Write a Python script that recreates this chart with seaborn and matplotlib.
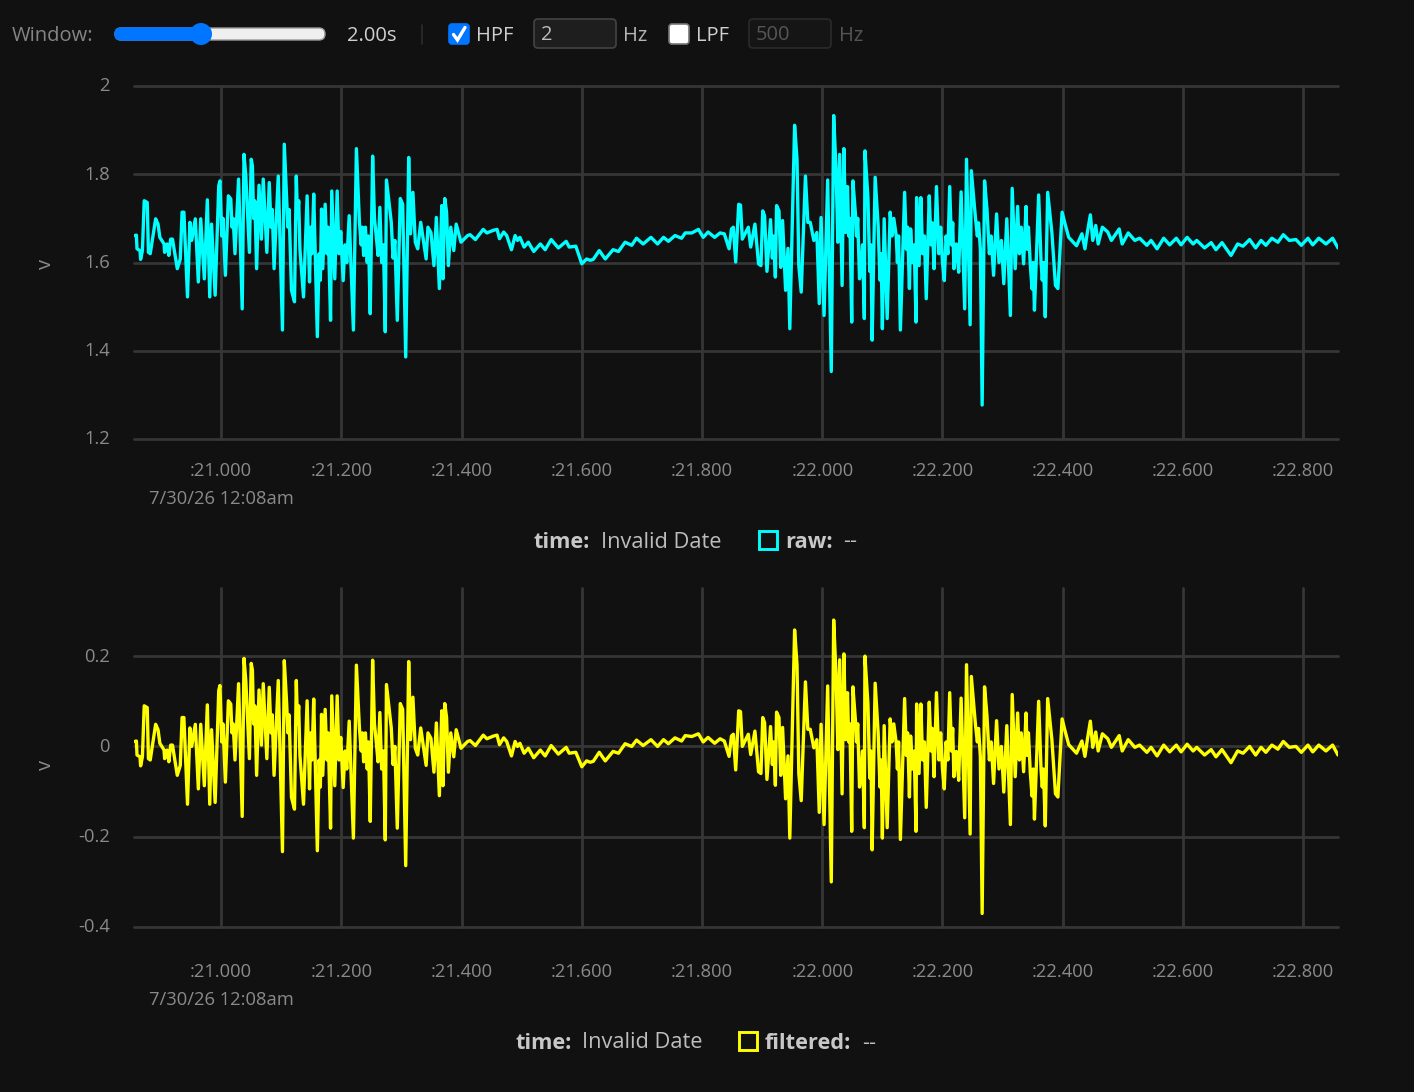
import numpy as np
import pandas as pd
import seaborn as sns
import matplotlib
matplotlib.use("Agg")
import matplotlib.pyplot as plt
from matplotlib.patches import FancyBboxPatch, Rectangle, Circle
from matplotlib.transforms import blended_transform_factory, ScaledTranslation

# Time offsets in ms after :21.000, raw volts, filtered volts
time_a = [-144,-141,-140,-135,-134,-131,-128,-123,-121,-118,-109,-105,-102,-95,-94,-90,-87,-84,-81,-73,-68,-65,-62,-56,-52,-49,-43,-38,-34,-28,-23,-19,-16,-10,-4,-2,
          7,12,16,23,29,35,38,41,47,50,52,59,63,67,70,76,80,88,95,102,105,109,117,122,125,131,137,143,147,154,160,167,169,173,182,184,189,193,203,213,220,225,230,237,240,248,252,261,264,273,275,283,293,298,302,307,312,315,319,323,327,332,341,344,349,354,358,363,367,369,372,375,378,382,387,391,399,410]
raw_a = [1.661,1.662,1.631,1.627,1.607,1.627,1.740,1.736,1.623,1.620,1.699,1.687,1.657,1.642,1.623,1.642,1.616,1.653,1.653,1.586,1.608,1.714,1.714,1.522,1.691,1.650,1.699,1.556,1.699,1.563,1.742,1.522,1.687,1.526,1.774,1.785,
         1.571,1.751,1.744,1.620,1.789,1.495,1.845,1.796,1.623,1.834,1.819,1.586,1.775,1.653,1.789,1.623,1.781,1.586,1.796,1.447,1.868,1.744,1.537,1.511,1.796,1.631,1.522,1.751,1.556,1.755,1.432,1.721,1.586,1.732,1.469,1.762,1.563,1.762,1.559,1.706,1.447,1.858,1.691,1.616,1.680,1.484,1.841,1.616,1.725,1.443,1.787,1.691,1.469,1.745,1.732,1.386,1.838,1.665,1.759,1.646,1.631,1.691,1.608,1.680,1.668,1.593,1.702,1.541,1.729,1.563,1.745,1.714,1.593,1.680,1.627,1.687,1.646,1.661]
filt_a = [.011,.012,-.019,-.023,-.043,-.023,.090,.086,-.027,-.030,.049,.037,.007,-.008,-.027,-.008,-.034,.003,.003,-.064,-.042,.064,.064,-.128,.041,.000,.049,-.094,.049,-.087,.092,-.128,.037,-.124,.124,.135,
          -.079,.101,.094,-.030,.139,-.155,.195,.146,-.027,.184,.169,-.064,.125,.003,.139,-.027,.131,-.064,.146,-.233,.190,.094,-.113,-.139,.146,-.019,-.128,.101,-.094,.105,-.231,.071,-.064,.082,-.181,.112,-.087,.112,-.091,.056,-.203,.180,.041,-.034,.030,-.166,.191,-.034,.075,-.207,.137,.041,-.181,.095,.082,-.264,.188,.015,.109,-.004,-.019,.041,-.042,.030,.018,-.057,.052,-.109,.079,-.087,.095,.064,-.057,.030,-.023,.037,-.004,.011]

time_b = [414,423,436,442,453,459,463,470,475,483,489,493,497,504,511,520,531,539,549,561,574,579,590,600,608,614,619,629,639,652,661,672,683,691,702,715,726,736,744,755,766,772,783,794,802,810,821,830]
raw_b = [1.663,1.652,1.675,1.667,1.673,1.675,1.654,1.669,1.661,1.629,1.661,1.650,1.657,1.635,1.646,1.625,1.642,1.629,1.652,1.633,1.648,1.635,1.637,1.597,1.608,1.605,1.607,1.627,1.608,1.629,1.625,1.646,1.639,1.655,1.642,1.657,1.642,1.657,1.648,1.661,1.655,1.667,1.667,1.675,1.657,1.669,1.657,1.667]
filt_b = [.013,.002,.025,.017,.023,.025,.004,.019,.011,-.021,.011,.000,.007,-.015,-.004,-.025,-.008,-.021,.002,-.017,-.002,-.015,-.013,-.045,-.032,-.035,-.033,-.013,-.032,-.011,-.015,.006,.000,.014,.002,.015,.000,.015,.006,.019,.012,.024,.022,.028,.010,.020,.007,.017]

time_c = [837,845,849,852,856,861,864,867,877,881,888,894,898,901,904,908,914,922,924,928,931,934,939,943,946,954,958,961,965,972,976,980,986,991,995,998,
          1003,1009,1015,1019,1023,1026,1029,1033,1036,1039,1042,1049,1051,1055,1062,1070,1071,1076,1083,1088,1093,1100,1103,1108,1113,1123,1130,1137,1145,1147,1156,1157,1161,1164,1173,1178,1186,1190,1203,1212,1219,1223,1227,1231,1237,1240,1246,1248,1255,1263,1266,1270,1274,1285,1290,1302,1307,1313,1316,1321,1325,1335,1339,1346,1353,1360,1364,1371,1375,1382,1388,1392,1399,1404,1410,1423,1432,1437,1441]
raw_c = [1.665,1.631,1.676,1.680,1.601,1.732,1.730,1.653,1.680,1.635,1.687,1.597,1.593,1.717,1.706,1.580,1.697,1.567,1.729,1.717,1.589,1.695,1.537,1.632,1.450,1.911,1.834,1.593,1.533,1.796,1.691,1.691,1.650,1.668,1.507,1.702,
         1.480,1.787,1.353,1.933,1.808,1.646,1.845,1.548,1.858,1.668,1.772,1.465,1.785,1.714,1.563,1.473,1.853,1.747,1.424,1.793,1.683,1.450,1.699,1.473,1.714,1.661,1.447,1.759,1.541,1.676,1.465,1.747,1.593,1.747,1.518,1.751,1.586,1.772,1.559,1.772,1.586,1.642,1.578,1.760,1.495,1.834,1.459,1.808,1.699,1.631,1.277,1.785,1.721,1.571,1.710,1.552,1.699,1.480,1.768,1.586,1.727,1.597,1.727,1.597,1.492,1.753,1.601,1.477,1.759,1.668,1.548,1.541,1.714,1.687,1.657,1.638,1.665,1.631,1.668]
filt_c = [.012,-.022,.023,.027,-.052,.079,.077,.000,.027,-.018,.034,-.056,-.060,.064,.053,-.073,.044,-.086,.076,.064,-.064,.042,-.116,-.021,-.203,.258,.181,-.060,-.120,.143,.038,.038,-.003,.015,-.146,.049,
          -.173,.134,-.300,.280,.155,-.007,.192,-.105,.205,.015,.119,-.188,.132,.061,-.090,-.180,.200,.094,-.229,.140,.030,-.203,.046,-.180,.061,.008,-.206,.106,-.112,.023,-.188,.094,-.060,.094,-.135,.098,-.067,.119,-.094,.119,-.067,-.011,-.075,.107,-.158,.181,-.194,.155,.046,-.022,-.370,.132,.068,-.082,.057,-.101,.046,-.173,.115,-.067,.074,-.056,.074,-.056,-.161,.100,-.052,-.176,.106,.015,-.105,-.112,.061,.034,.004,-.015,.012,-.022,.015]

time_d = [1446,1450,1455,1459,1466,1475,1481,1494,1499,1509,1520,1528,1540,1547,1557,1568,1578,1589,1597,1607,1617,1623,1636,1647,1655,1665,1680,1691,1700,1711,1721,1730,1738,1748,1758,1767,1777,1788,1797,1808,1816,1826,1838,1849,1858]
raw_d = [1.708,1.650,1.684,1.642,1.680,1.669,1.650,1.676,1.642,1.667,1.650,1.655,1.639,1.650,1.631,1.655,1.640,1.655,1.640,1.657,1.642,1.650,1.633,1.645,1.629,1.645,1.616,1.642,1.637,1.652,1.633,1.650,1.639,1.655,1.646,1.663,1.650,1.652,1.639,1.655,1.640,1.655,1.642,1.655,1.633]
filt_d = [.056,-.002,.032,-.010,.028,.017,-.002,.024,-.010,.015,-.002,.003,-.013,-.002,-.021,.003,-.012,.003,-.012,.005,-.010,-.002,-.019,-.007,-.023,-.007,-.036,-.010,-.015,.000,-.019,-.002,-.013,.003,-.006,.011,-.002,.000,-.013,.003,-.012,.003,-.010,.003,-.019]

# Smaller inner zigzags inside the two bursts
time_e = [1,3,18,20,54,56,83,85,111,113,127,129,149,151,163,165,176,178,196,199,206,209,233,235,243,245,255,258,267,270,286,289,
          917,919,1044,1046,1057,1059,1065,1067,1079,1081,1096,1098,1116,1119,1125,1127,1140,1142,1150,1153,1167,1170,1181,1183,1194,1197,1200,1206,1209,1215,1217,1258,1260,1278,1281,1294,1298,1328,1331,1341,1343,1349,1351,1366,1368]
raw_e = [1.66,1.70,1.68,1.70,1.70,1.74,1.68,1.72,1.68,1.72,1.70,1.74,1.68,1.62,1.62,1.56,1.62,1.68,1.62,1.67,1.64,1.60,1.64,1.68,1.60,1.66,1.70,1.66,1.60,1.64,1.61,1.65,
         1.61,1.66,1.66,1.70,1.66,1.70,1.60,1.64,1.58,1.64,1.56,1.62,1.66,1.70,1.60,1.66,1.63,1.68,1.60,1.64,1.62,1.66,1.64,1.69,1.62,1.68,1.60,1.66,1.62,1.64,1.69,1.66,1.69,1.62,1.66,1.60,1.65,1.62,1.68,1.63,1.68,1.54,1.60,1.56,1.60]
filt_e = [.01,.05,.03,.05,.05,.09,.03,.07,.03,.07,.05,.09,.03,-.03,-.03,-.09,-.03,.03,-.03,.02,-.01,-.05,-.01,.03,-.05,.01,.05,.01,-.05,-.01,-.04,.00,
          -.04,.01,.01,.05,.01,.05,-.05,-.01,-.07,-.01,-.09,-.03,.01,.05,-.05,.01,-.02,.03,-.05,-.01,-.03,.01,-.01,.04,-.03,.03,-.05,.01,-.03,-.01,.04,.01,.04,-.03,.01,-.05,.00,-.03,.03,-.02,.03,-.11,-.05,-.09,-.05]

x_ticks = [21.0, 21.2, 21.4, 21.6, 21.8, 22.0, 22.2, 22.4, 22.6, 22.8]
x_labels = [":21.000", ":21.200", ":21.400", ":21.600", ":21.800", ":22.000", ":22.200", ":22.400", ":22.600", ":22.800"]
y_ticks_raw = [1.2, 1.4, 1.6, 1.8, 2.0]
y_labels_raw = ["1.2", "1.4", "1.6", "1.8", "2"]
y_ticks_filt = [-0.4, -0.2, 0.0, 0.2]
y_labels_filt = ["-0.4", "-0.2", "0", "0.2"]
date_label = "7/30/26 12:08am"

BG = "#111111"
GRID = "#363636"
TICK = "#8a8a8a"
FONT = ["Open Sans", "Noto Sans", "DejaVu Sans"]

sns.set_theme(style="dark", rc={"figure.facecolor": BG, "axes.facecolor": BG, "savefig.facecolor": BG})
plt.rcParams["font.family"] = FONT

df = pd.DataFrame({
    "time": 21 + np.array(time_a + time_b + time_c + time_d + time_e) / 1000,
    "raw": raw_a + raw_b + raw_c + raw_d + raw_e,
    "filtered": filt_a + filt_b + filt_c + filt_d + filt_e,
}).sort_values("time")

W, H = 1414, 1092
fig = plt.figure(figsize=(W / 100, H / 100), dpi=100)

def make_axes(top, bottom):
    return fig.add_axes([134 / W, 1 - bottom / H, (1338 - 134) / W, (bottom - top) / H])

def style(ax, series, color, yticks, ylabels, ylim, ylabel_px, xpad, date_px):
    sns.lineplot(data=df, x="time", y=series, ax=ax, color=color, estimator=None, sort=False,
                 linewidth=2.4, solid_joinstyle="round", zorder=3)
    ax.set_xlim(20.855, 22.858)
    ax.set_ylim(*ylim)
    ax.set_xticks(x_ticks, x_labels)
    ax.set_yticks(yticks, ylabels)
    ax.grid(True, color=GRID, linewidth=2.0)
    ax.set_axisbelow(True)
    for gl in ax.get_xgridlines() + ax.get_ygridlines():
        gl.set_clip_on(False)
    for s in ax.spines.values():
        s.set_visible(False)
    ax.set_xlabel("")
    ax.set_ylabel("")
    ax.tick_params(axis="x", length=0, pad=xpad, labelsize=13.2, labelcolor=TICK)
    ax.tick_params(axis="y", length=0, pad=17.5, labelsize=13.2, labelcolor=TICK)
    shift = ScaledTranslation(0, 1.1 / 72, fig.dpi_scale_trans)
    for lab in ax.get_yticklabels():
        lab.set_transform(lab.get_transform() + shift)
    tr = blended_transform_factory(ax.transData, ax.transAxes)
    h = ax.get_position().height * H
    ax.text(21.0, -date_px / h, date_label, transform=tr, ha="center", va="center", color=TICK, fontsize=13.2)
    ax.text(46, ylabel_px, "v", transform=over.transData, rotation=90, ha="center", va="center",
            color=TICK, fontsize=14.5)

# full-figure overlay in pixel coordinates for the control bar and legends
over = fig.add_axes([0, 0, 1, 1], zorder=5)
over.set_xlim(0, W)
over.set_ylim(H, 0)
over.axis("off")
over.patch.set_alpha(0)

ax1 = make_axes(86, 439)
style(ax1, "raw", "#00ffff", y_ticks_raw, y_labels_raw, (1.2, 2.0), 264, 16.5, 60)
ax2 = make_axes(588, 927)
style(ax2, "filtered", "#ffff00", y_ticks_filt, y_labels_filt, (-0.4, 0.351), 765, 26, 73)

def label(x, y, s, color, weight="normal", size=14.5):
    over.text(x, y, s, color=color, fontsize=size, fontweight=weight, ha="left", va="center")

def rbox(x0, y0, x1, y1, r, fc, ec, lw=1.2):
    over.add_patch(FancyBboxPatch((x0, y0), x1 - x0, y1 - y0, boxstyle=f"round,pad=0,rounding_size={r}",
                                  fc=fc, ec=ec, lw=lw))

# control bar
label(12, 36, "Window:", "#858585")
rbox(115, 28, 325, 40, 6, "#efefef", "#9a9a9a", 1.0)
rbox(115, 28, 200, 40, 6, "#0075ff", "#0075ff", 1.0)
over.add_patch(Circle((201, 34), 11, fc="#0075ff", ec="none"))
label(347, 36, "2.00s", "#cfcfcf")
over.plot([422, 422], [25, 44], color="#2c2c2c", lw=1.2)
rbox(449, 24, 469, 44, 3, "#0075ff", "#0075ff")
over.plot([453.5, 457.5, 465], [34.5, 40, 27.5], color="white", lw=2.4, solid_joinstyle="miter")
label(476, 36, "HPF", "#cfcfcf")
rbox(534, 19, 616, 48, 4, "#1e1e1e", "#444444")
label(541, 34.5, "2", "#bdbdbd")
label(623, 36, "Hz", "#b5b5b5")
rbox(669, 24, 689, 44, 3, "#ffffff", "#777777")
label(696, 36, "LPF", "#cfcfcf")
rbox(749, 19, 831, 48, 4, "#151515", "#2b2b2b")
label(756, 34.5, "500", "#555555")
label(839, 36, "Hz", "#555555")

# legends
LEG = "#c8c8c8"
LS = 15.7
label(534, 543, "time:", LEG, "bold", LS)
label(601, 542, "Invalid Date", "#bdbdbd", size=LS)
over.add_patch(Rectangle((759, 531), 18, 18, fc="none", ec="#00ffff", lw=2.1))
label(785, 543, "raw:", LEG, "bold", LS)
label(843, 542, "--", "#bdbdbd", size=LS)

label(515, 1043.5, "time:", LEG, "bold", LS)
label(582, 1043, "Invalid Date", "#bdbdbd", size=LS)
over.add_patch(Rectangle((739, 1032), 18, 18, fc="none", ec="#ffff00", lw=2.1))
label(765, 1043.5, "filtered:", LEG, "bold", LS)
label(862, 1043, "--", "#bdbdbd", size=LS)

fig.savefig("out.png", dpi=100, facecolor=BG)
